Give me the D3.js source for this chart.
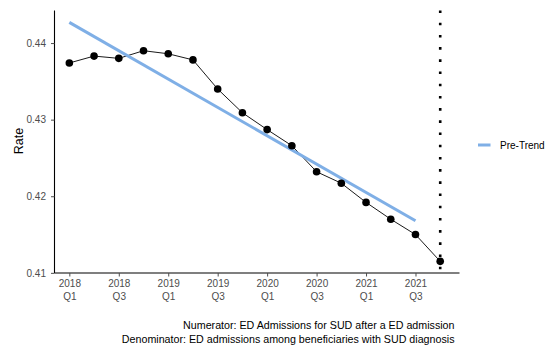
<!DOCTYPE html>
<html>
<head>
<meta charset="utf-8">
<script src="https://cdn.jsdelivr.net/npm/d3@7"></script>
<style>
  html, body { margin: 0; padding: 0; background: #fff; }
  svg { display: block; font-family: "Liberation Sans", Arial, Helvetica, sans-serif; }
</style>
</head>
<body>
<svg id="chart" width="547" height="346"></svg>
<script>
// ---- data ----
const quarters = ["2018 Q1","2018 Q2","2018 Q3","2018 Q4",
                  "2019 Q1","2019 Q2","2019 Q3","2019 Q4",
                  "2020 Q1","2020 Q2","2020 Q3","2020 Q4",
                  "2021 Q1","2021 Q2","2021 Q3","2021 Q4"];
const rates = [0.4374, 0.4383, 0.4380, 0.4390,
               0.4386, 0.4378, 0.4340, 0.4309,
               0.4287, 0.4266, 0.4232, 0.4217,
               0.4192, 0.4170, 0.4150, 0.4115];
const trendQuarters = ["2018 Q1", "2021 Q3"];
const trendRates = [0.4427, 0.4168];
const xTickQuarters = ["2018 Q1","2018 Q3","2019 Q1","2019 Q3","2020 Q1","2020 Q3","2021 Q1","2021 Q3"];
const yTicks = [0.41, 0.42, 0.43, 0.44];
const interventionQuarter = "2021 Q4";
const legendLabels = ["Pre-Trend"];
const captionLines = ["Numerator: ED Admissions for SUD after a ED admission",
                      "Denominator: ED admissions among beneficiaries with SUD diagnosis"];

// ---- layout ----
const svg = d3.select("#chart");
const pLeft = 54.5, pRight = 459.5, pTop = 10.5, pBottom = 273;
const idx = q => quarters.indexOf(q);

const x = d3.scaleLinear().domain([-0.6, 15.78]).range([pLeft, pRight]);
const y = d3.scaleLinear().domain([0.40998, 0.44425]).range([pBottom, pTop]);

const gray = "#4d4d4d";

// intervention dotted line
svg.append("line")
  .attr("x1", x(idx(interventionQuarter))).attr("x2", x(idx(interventionQuarter)))
  .attr("y1", pTop).attr("y2", pBottom)
  .attr("stroke", "#000").attr("stroke-width", 2.6)
  .attr("stroke-dasharray", "2.6,9.6");

// observed line
const line = d3.line().x((d, i) => x(i)).y(d => y(d));
svg.append("path").datum(rates)
  .attr("d", line).attr("fill", "none")
  .attr("stroke", "#000").attr("stroke-width", 0.9);

// trend line
const trendData = trendQuarters.map((q, i) => [idx(q), trendRates[i]]);
svg.append("path").datum(trendData)
  .attr("d", d3.line().x(d => x(d[0])).y(d => y(d[1])))
  .attr("fill", "none").attr("stroke", "#7FAFE6").attr("stroke-width", 3);

// points
svg.append("g").selectAll("circle").data(rates).join("circle")
  .attr("cx", (d, i) => x(i)).attr("cy", d => y(d))
  .attr("r", 3.8).attr("fill", "#000");

// y axis
const yAxis = svg.append("g").attr("transform", `translate(${pLeft},0)`)
  .call(d3.axisLeft(y).tickValues(yTicks).tickSize(3.5).tickPadding(5).tickFormat(d3.format(".2f")));
yAxis.select(".domain").attr("stroke", "#000").attr("stroke-width", 1.1).attr("d", `M0,${pBottom}V${pTop}`);
yAxis.selectAll(".tick line").attr("stroke", gray);
yAxis.selectAll(".tick text").attr("fill", gray).attr("font-size", 10)
  .attr("font-family", "Liberation Sans, Arial, sans-serif");

// x axis
const xAxis = svg.append("g").attr("transform", `translate(0,${pBottom})`)
  .call(d3.axisBottom(x).tickValues(xTickQuarters.map(idx)).tickSize(3.5).tickFormat(""));
xAxis.select(".domain").attr("stroke", "#000").attr("stroke-width", 1.1).attr("d", `M${pLeft},0H${pRight}`);
xAxis.selectAll(".tick line").attr("stroke", gray);
xAxis.selectAll(".tick").each(function(d) {
  const parts = quarters[d].split(" ");
  const t = d3.select(this).append("text")
    .attr("fill", gray).attr("font-size", 10).attr("text-anchor", "middle")
    .attr("font-family", "Liberation Sans, Arial, sans-serif");
  t.append("tspan").attr("x", 0).attr("y", 13.8).text(parts[0]);
  t.append("tspan").attr("x", 0).attr("y", 26.5).text(parts[1]);
});

// y label
svg.append("text")
  .attr("transform", `translate(22.5,141) rotate(-90)`)
  .attr("text-anchor", "middle").attr("font-size", 12.5).attr("fill", "#000")
  .text("Rate");

// legend
const lg = svg.append("g").attr("transform", "translate(478,145)");
lg.append("line").attr("x1", 0).attr("x2", 12.5).attr("y1", 0).attr("y2", 0)
  .attr("stroke", "#7FAFE6").attr("stroke-width", 3);
lg.append("text").attr("x", 22).attr("y", 3.6).attr("font-size", 10).attr("fill", "#000")
  .text(legendLabels[0]);

// caption
svg.append("g").selectAll("text").data(captionLines).join("text")
  .attr("x", 454.5).attr("y", (d, i) => 328.8 + i * 14)
  .attr("text-anchor", "end").attr("font-size", 10.7).attr("fill", "#000")
  .text(d => d);
</script>
</body>
</html>
